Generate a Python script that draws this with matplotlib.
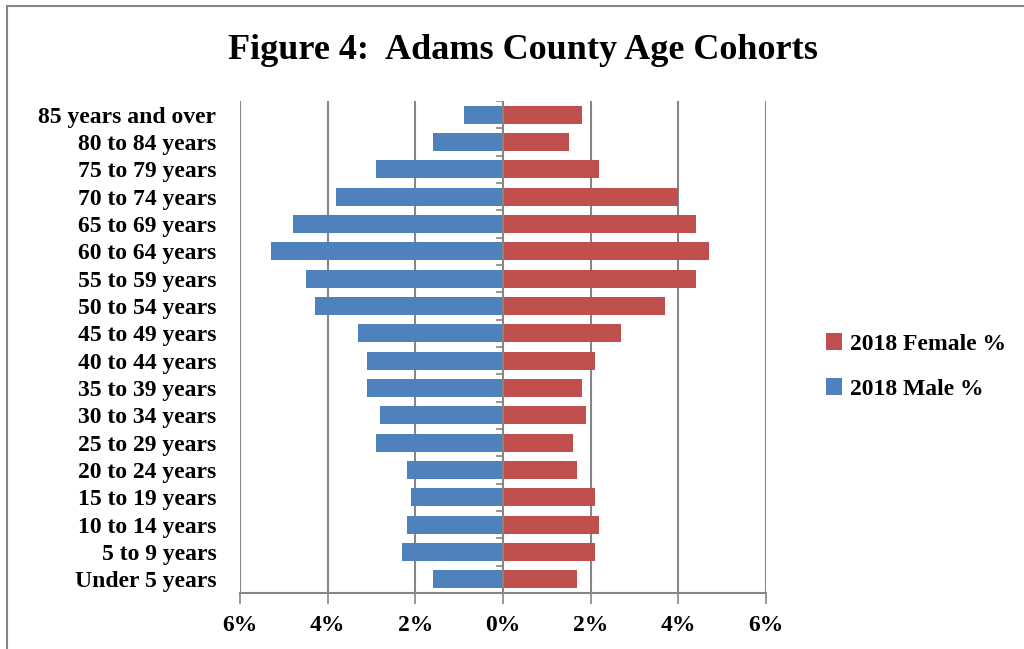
import matplotlib.pyplot as plt
import numpy as np

ages = ['Under 5 years', '5 to 9 years', '10 to 14 years', '15 to 19 years',
        '20 to 24 years', '25 to 29 years', '30 to 34 years', '35 to 39 years',
        '40 to 44 years', '45 to 49 years', '50 to 54 years', '55 to 59 years',
        '60 to 64 years', '65 to 69 years', '70 to 74 years', '75 to 79 years',
        '80 to 84 years', '85 years and over']
male = [1.6, 2.3, 2.2, 2.1, 2.2, 2.9, 2.8, 3.1, 3.1, 3.3, 4.3, 4.5,
        5.3, 4.8, 3.8, 2.9, 1.6, 0.9]
female = [1.7, 2.1, 2.2, 2.1, 1.7, 1.6, 1.9, 1.8, 2.1, 2.7, 3.7, 4.4,
          4.7, 4.4, 4.0, 2.2, 1.5, 1.8]
xticks = [-6, -4, -2, 0, 2, 4, 6]

plt.rcParams['font.family'] = ['Liberation Serif', 'DejaVu Serif']
plt.rcParams['font.weight'] = 'bold'

grid_col = '#868686'
fig = plt.figure(figsize=(10.24, 6.49), dpi=100)
ax = fig.add_axes([0.2344, 0.0863, 0.748 - 0.2344, 0.8444 - 0.0863])

y = np.arange(len(ages))
h_m = ax.barh(y, -np.array(male), height=0.66, color='#4F81BD', label='2018 Male %', zorder=3)
h_f = ax.barh(y, female, height=0.66, color='#C0504D', label='2018 Female %', zorder=3)

ax.set_xlim(-6, 6)
ax.set_ylim(-0.5, len(ages) - 0.5)
ax.set_xticks(xticks)
ax.set_xticklabels(['%d%%' % abs(v) for v in xticks], fontsize=17, fontweight='bold')
ax.set_yticks(y)
ax.set_yticklabels(ages, fontsize=17, fontweight='bold')
ax.tick_params(axis='y', length=0, pad=17)
ax.tick_params(axis='x', length=8, width=1.2, color=grid_col, pad=8)

for v in xticks:
    if v != 0:
        ax.axvline(v, color=grid_col, lw=1.5, zorder=1)
ax.axvline(0, color=grid_col, lw=1.5, zorder=4)
# category ticks on the zero axis
bounds = np.arange(len(ages) + 1) - 0.5
ax.hlines(bounds, -0.16, 0, color=grid_col, lw=1.2, zorder=4)

for s in ['top', 'right', 'left']:
    ax.spines[s].set_visible(False)
ax.spines['bottom'].set_color(grid_col)
ax.spines['bottom'].set_linewidth(1.5)

fig.text(0.511, 0.922, 'Figure 4:  Adams County Age Cohorts', ha='center', va='center',
         fontsize=26, fontweight='bold')

ax.legend([h_f, h_m], ['2018 Female %', '2018 Male %'], loc='center left',
          bbox_to_anchor=(1.073, 0.46), frameon=False,
          prop={'size': 17, 'weight': 'bold'}, handlelength=0.7, handleheight=0.7,
          handletextpad=0.35, labelspacing=1.0)

# outer frame
fig.add_artist(plt.Rectangle((7 / 1024, -0.1), 1.2, 1 - 6 / 649 + 0.1, transform=fig.transFigure,
                             fill=False, edgecolor=grid_col, lw=1.5))

plt.savefig('out.png', dpi=100)
